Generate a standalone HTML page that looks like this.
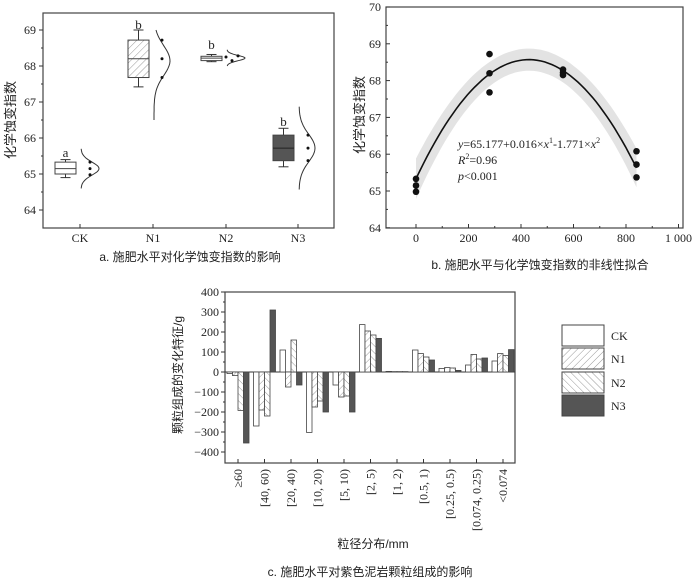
<!DOCTYPE html>
<html><head><meta charset="utf-8">
<style>
html,body{margin:0;padding:0;background:#fff;}
svg{display:block;}
text{font-family:"Liberation Serif","Noto Serif CJK SC",serif;fill:#222;}
.cn{font-family:"Liberation Sans","Noto Sans CJK SC",sans-serif;}
</style></head>
<body>
<svg id="s" width="700" height="579" viewBox="0 0 700 579" xmlns="http://www.w3.org/2000/svg">
<defs>
<pattern id="h1" patternUnits="userSpaceOnUse" width="5" height="5" patternTransform="rotate(45)"><rect width="5" height="5" fill="#fff"/><line x1="0" y1="0" x2="0" y2="5" stroke="#999" stroke-width="1"/></pattern>
<pattern id="h2" patternUnits="userSpaceOnUse" width="5" height="5" patternTransform="rotate(-45)"><rect width="5" height="5" fill="#fff"/><line x1="0" y1="0" x2="0" y2="5" stroke="#999" stroke-width="1"/></pattern>
</defs>
<g id="g"></g>
</svg>
<script>
var out=[];
function L(x1,y1,x2,y2,w,c){out.push('<line x1="'+x1+'" y1="'+y1+'" x2="'+x2+'" y2="'+y2+'" stroke="'+(c||'#333')+'" stroke-width="'+(w||1)+'"/>');}
function R(x,y,w,h,f,sw){out.push('<rect x="'+x+'" y="'+y+'" width="'+w+'" height="'+h+'" fill="'+f+'" stroke="#444" stroke-width="'+(sw||1)+'"/>');}
function T(x,y,s,sz,anc,cls,extra){out.push('<text x="'+x+'" y="'+y+'" font-size="'+sz+'" text-anchor="'+(anc||'middle')+'" '+(cls?'class="'+cls+'"':'')+' '+(extra||'')+'>'+s+'</text>');}
function C(x,y,r){out.push('<circle cx="'+x+'" cy="'+y+'" r="'+r+'" fill="#111"/>');}
// Panel a
var ya=function(v){return 30+(69-v)*36;};
R(43,13,291,215,'none',1.2);
for(var v=64;v<=69;v++){L(39,ya(v),43,ya(v));T(36,ya(v)+4,v,12,'end');}
for(v=64.5;v<69.5;v+=1){L(41,ya(v),43,ya(v));}
var grp=[{n:'CK',t:80,w:[64.9,65.4],b:[65.0,65.33],m:65.15,f:'#fff',p:[65.33,65.15,64.98],px:[90,90,90],c:[64.6,65.7,65.15,18],lab:'a',ly:157},
{n:'N1',t:153,w:[67.42,69.0],b:[67.68,68.72],m:68.2,f:'url(#h1)',p:[68.72,68.2,67.68],px:[162,162,162],c:[66.5,69.0,68.15,16],lab:'b',ly:29},
{n:'N2',t:226,w:[68.12,68.32],b:[68.15,68.27],m:68.22,f:'#fff',p:[68.25,68.15,68.28],px:[226,232,238],c:[68.0,68.45,68.22,18],lab:'b',ly:49},
{n:'N3',t:298,w:[65.2,66.27],b:[65.37,66.08],m:65.72,f:'#555',p:[66.08,65.72,65.37],px:[308,308,308],c:[64.57,66.87,65.72,16],lab:'b',ly:126}];
grp.forEach(function(g){
 var bx=g.t-25,bw=21,cx=bx+bw/2;
 L(g.t,228,g.t,224);T(g.t,242,g.n,12);
 L(cx,ya(g.w[1]),cx,ya(g.b[1]));L(cx,ya(g.b[0]),cx,ya(g.w[0]));
 L(cx-5,ya(g.w[1]),cx+5,ya(g.w[1]));L(cx-5,ya(g.w[0]),cx+5,ya(g.w[0]));
 R(bx,ya(g.b[1]),bw,ya(g.b[0])-ya(g.b[1]),g.f);
 L(bx,ya(g.m),bx+bw,ya(g.m),1,g.f=='#555'?'#222':'#444');
 T(cx,g.ly,g.lab,13);
 var d='',sd=(g.c[1]-g.c[0])/6;
 for(var i=0;i<=40;i++){var vv=g.c[0]+(g.c[1]-g.c[0])*i/40;var x=g.t+1+g.c[3]*Math.exp(-Math.pow((vv-g.c[2])/sd,2)/2);d+=(i?'L':'M')+x.toFixed(1)+' '+ya(vv).toFixed(1);}
 out.push('<path d="'+d+'" fill="none" stroke="#333" stroke-width="1"/>');
 for(i=0;i<3;i++)C(g.px[i],ya(g.p[i]),1.5);
});
T(15,120,'化学蚀变指数',13,'middle','cn','transform="rotate(-90 15 120)"');
T(190,261,'a.  施肥水平对化学蚀变指数的影响',12,'middle','cn');
// Panel b
var yb=function(v){return 7+(70-v)*36.8;},xb=function(t){return 416+t*0.2625;};
R(386,7,297,221,'none',1.2);
for(v=64;v<=70;v++){L(386,yb(v),390,yb(v));T(381,yb(v)+4,v,12,'end');}
for(v=64.5;v<70;v+=1){L(386,yb(v),388,yb(v));}
for(var t=0;t<=1000;t+=200){L(xb(t),228,xb(t),224);T(xb(t),242,t==1000?'1 000':t,12);}
for(t=100;t<1000;t+=200){L(xb(t),228,xb(t),226);}
function f(t){return 68.57-1.75e-5*Math.pow(t-430,2);}
function bw(t){return 0.3+0.25*Math.pow((t-430)/430,2);}
var up='',dn='',cv='';
for(var i=0;i<=60;i++){t=840*i/60;up+=(i?'L':'M')+xb(t).toFixed(1)+' '+yb(f(t)+bw(t)).toFixed(1);cv+=(i?'L':'M')+xb(t).toFixed(1)+' '+yb(f(t)).toFixed(1);}
for(i=60;i>=0;i--){t=840*i/60;dn+='L'+xb(t).toFixed(1)+' '+yb(f(t)-bw(t)).toFixed(1);}
out.push('<path d="'+up+dn+'Z" fill="#e3e3e3"/>');
out.push('<path d="'+cv+'" fill="none" stroke="#111" stroke-width="1.6"/>');
[[0,[65.33,65.15,64.98]],[280,[68.72,68.2,67.68]],[560,[68.3,68.22,68.15]],[840,[66.08,65.72,65.37]]].forEach(function(p){p[1].forEach(function(v){C(xb(p[0]),yb(v),3.3);});});
T(458,148,'<tspan font-style="italic">y</tspan>=65.177+0.016×<tspan font-style="italic">x</tspan><tspan font-size="8" dy="-5">1</tspan><tspan dy="5">-1.771×</tspan><tspan font-style="italic">x</tspan><tspan font-size="8" dy="-5">2</tspan>',12,'start');
T(458,164,'<tspan font-style="italic">R</tspan><tspan font-size="8" dy="-5">2</tspan><tspan dy="5">=0.96</tspan>',12,'start');
T(458,180,'<tspan font-style="italic">p</tspan>&lt;0.001',12,'start');
T(364,115,'化学蚀变指数',13,'middle','cn','transform="rotate(-90 364 115)"');
T(540,269,'b.  施肥水平与化学蚀变指数的非线性拟合',12,'middle','cn');
// Panel c
var yc=function(v){return 372-v*0.2;};
R(225,292,290,171,'none',1.2);
for(v=-400;v<=400;v+=100){L(221,yc(v),225,yc(v));T(219,yc(v)+4,v<0?'−'+(-v):v,12,'end');}
for(v=-350;v<400;v+=100){L(223,yc(v),225,yc(v));}
L(225,372,515,372,1,'#333');
var cats=['≥60','[40, 60)','[20, 40)','[10, 20)','[5, 10)','[2, 5)','[1, 2)','[0.5, 1)','[0.25, 0.5)','[0.074, 0.25)','&lt;0.074'];
var data=[[-8,-18,-192,-355],[-270,-190,-220,310],[110,-75,160,-65],[-302,-175,-145,-200],[-65,-125,-120,-200],[237,205,185,168],[3,2,2,2],[110,92,75,60],[18,22,20,8],[35,88,65,70],[55,92,82,112]];
var fills=['#fff','url(#h1)','url(#h2)','#555'];
for(var k=0;k<11;k++){
 var tx=238+k*26.5;
 L(tx,463,tx,459);
 for(var j=0;j<4;j++){var v2=data[k][j];var y0=yc(Math.max(v2,0)),h=Math.abs(v2)*0.2;R(tx-11+j*5.5,y0,5.5,Math.max(h,0.5),fills[j],0.8);}
 T(tx+4,469,cats[k],12,'end','', 'transform="rotate(-90 '+(tx+4)+' 469)"');
}
T(182,375,'颗粒组成的变化特征/g',12,'middle','cn','transform="rotate(-90 182 375)"');
T(373,548,'粒径分布/mm',12,'middle','cn');
T(370,576,'c.  施肥水平对紫色泥岩颗粒组成的影响',12,'middle','cn');
var lg=[['CK','#fff',325],['N1','url(#h1)',348],['N2','url(#h2)',372],['N3','#555',395]];
lg.forEach(function(l){R(562,l[2],42,21,l[1]);T(611,l[2]+15,l[0],12,'start');});
document.getElementById('g').innerHTML=out.join('');
</script>
</body></html>
